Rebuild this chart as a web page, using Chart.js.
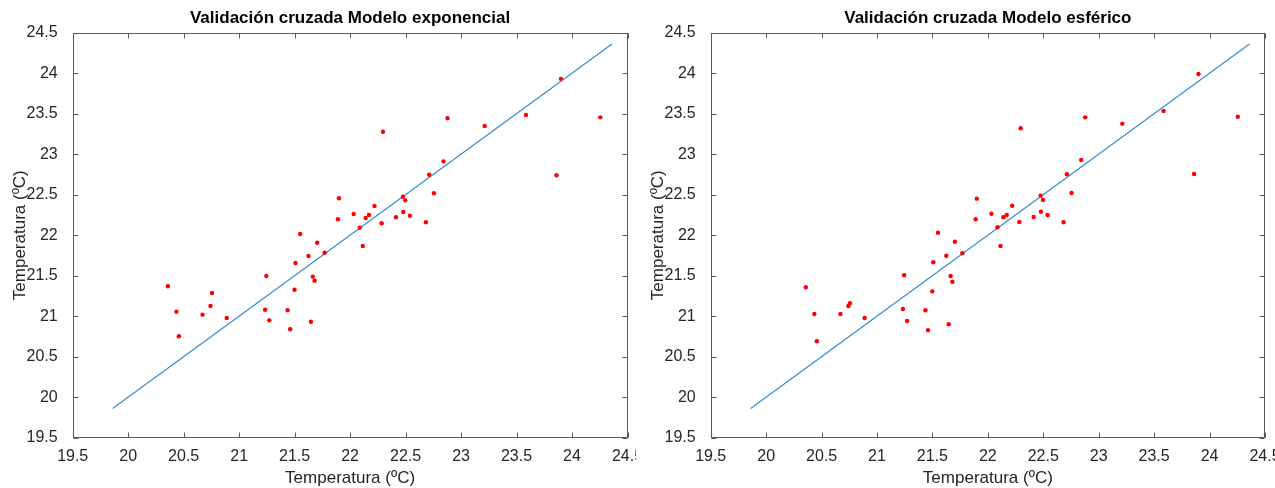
<!DOCTYPE html>
<html lang="es">
<head>
<meta charset="utf-8">
<title>Validación cruzada</title>
<script src="https://cdn.jsdelivr.net/npm/chart.js@4"></script>
<style>
  html, body { margin: 0; padding: 0; background: #fff; }
  body { width: 1275px; height: 488px; position: relative; overflow: hidden; }
  canvas { position: absolute; top: 0; }
  #chartExp { left: 0; }
  #chartEsf { left: 636px; }
</style>
</head>
<body>
<canvas id="chartExp" width="636" height="488"></canvas>
<canvas id="chartEsf" width="639" height="488"></canvas>
<script>
// --- DATOS ---
const temperaturaObservada = [
  21.90, 21.89, 21.55, 23.90, 23.585, 24.255, 23.213, 22.878, 22.296, 22.842,
  22.713, 23.86, 22.755, 22.476, 22.497, 22.22, 22.032, 22.17, 22.14, 22.479,
  22.539, 22.413, 22.284, 22.683, 22.087, 22.114, 21.703, 21.625, 21.77, 21.508,
  21.245, 21.664, 21.68, 21.499, 20.358, 20.756, 20.742, 20.67, 20.435, 20.457,
  20.888, 21.234, 21.272, 21.437, 21.46, 21.647
];

const predExponencial = [
  22.456, 22.196, 22.015, 23.93, 23.484, 23.455, 23.348, 23.443, 23.278, 22.912,
  22.747, 22.74, 22.517, 22.475, 22.43, 22.36, 22.262, 22.249, 22.212, 22.286,
  22.241, 22.221, 22.147, 22.159, 22.093, 21.867, 21.907, 21.743, 21.784, 21.657,
  21.496, 21.488, 21.439, 21.327, 21.369, 21.286, 21.126, 21.019, 21.056, 20.752,
  20.978, 21.08, 20.949, 21.073, 20.838, 20.932
];

const predEsferico = [
  22.451, 22.196, 22.031, 23.99, 23.533, 23.463, 23.377, 23.455, 23.32, 22.928,
  22.752, 22.756, 22.521, 22.488, 22.435, 22.364, 22.265, 22.249, 22.221, 22.29,
  22.249, 22.225, 22.163, 22.159, 22.098, 21.867, 21.92, 21.747, 21.777, 21.666,
  21.505, 21.496, 21.426, 21.307, 21.357, 21.159, 21.126, 21.027, 21.027, 20.69,
  20.978, 21.089, 20.94, 21.073, 20.826, 20.9
];

// recta 1:1
const lineaX = [19.86, 24.36];
const lineaY = [19.86, 24.36];

const marcasEje = [19.5, 20, 20.5, 21, 21.5, 22, 22.5, 23, 23.5, 24, 24.5];

const FONT = "'Liberation Sans', Arial, sans-serif";
const TEXTO_COLOR = '#262626';
const EJE_COLOR = '#595959';

// Caja estilo MATLAB con marcas hacia dentro + título
const cajaPlugin = {
  id: 'caja',
  afterDraw(chart, args, opts) {
    const { ctx, chartArea: a, scales } = chart;
    const L = Math.round(a.left) + 0.5, R = Math.round(a.right) - 0.5;
    const T = Math.round(a.top) + 0.5, B = Math.round(a.bottom) - 0.5;
    ctx.save();
    ctx.strokeStyle = EJE_COLOR;
    ctx.lineWidth = 1;
    ctx.strokeRect(L, T, R - L, B - T);
    ctx.beginPath();
    const len = 5;
    marcasEje.forEach(v => {
      const px = Math.round(scales.x.getPixelForValue(v)) + 0.5;
      ctx.moveTo(px, B); ctx.lineTo(px, B - len);
      ctx.moveTo(px, T); ctx.lineTo(px, T + len);
      const py = Math.round(scales.y.getPixelForValue(v)) + 0.5;
      ctx.moveTo(L, py); ctx.lineTo(L + len, py);
      ctx.moveTo(R, py); ctx.lineTo(R - len, py);
    });
    ctx.stroke();
    ctx.fillStyle = '#000';
    ctx.font = `bold 17px ${FONT}`;
    ctx.textAlign = 'center';
    ctx.textBaseline = 'middle';
    ctx.fillText(opts.text, (a.left + a.right) / 2, 18);
    ctx.restore();
  }
};

function buildChart(id, titulo, pred, caja) {
  const fijarEje = (w, h) => scale => {
    if (w != null) scale.width = w;
    if (h != null) scale.height = h;
    scale.paddingLeft = 0; scale.paddingRight = 0;
    scale.paddingTop = 0; scale.paddingBottom = 0;
  };
  const ticks = {
    color: TEXTO_COLOR,
    font: { family: FONT, size: 16 },
    maxRotation: 0,
    autoSkip: false,
    callback: v => String(+(+v).toFixed(1)),
  };
  const tituloEje = pad => ({
    display: true,
    text: 'Temperatura (ºC)',
    color: TEXTO_COLOR,
    font: { family: FONT, size: 17 },
    padding: pad,
  });

  return new Chart(document.getElementById(id), {
    type: 'scatter',
    plugins: [cajaPlugin],
    data: {
      datasets: [
        {
          data: temperaturaObservada.map((x, i) => ({ x, y: pred[i] })),
          backgroundColor: '#ff0000',
          borderWidth: 0,
          pointRadius: 2.2,
          pointHoverRadius: 2.2,
        },
        {
          data: lineaX.map((x, i) => ({ x, y: lineaY[i] })),
          showLine: true,
          borderColor: '#2f8ad0',
          borderWidth: 1.1,
          pointRadius: 0,
          fill: false,
        }
      ]
    },
    options: {
      responsive: false,
      animation: false,
      events: [],
      layout: { padding: { left: 0, top: caja.top, right: caja.right, bottom: 0 } },
      scales: {
        x: {
          min: 19.5, max: 24.5,
          grid: { display: false },
          border: { display: false },
          ticks: { ...ticks, padding: 1 },
          afterBuildTicks: s => { s.ticks = marcasEje.map(value => ({ value })); },
          afterFit: fijarEje(null, caja.bottomH),
          title: tituloEje({ top: 0, bottom: -1 }),
        },
        y: {
          min: 19.5, max: 24.5,
          grid: { display: false },
          border: { display: false },
          ticks: { ...ticks, padding: 7 },
          afterBuildTicks: s => { s.ticks = marcasEje.map(value => ({ value })); },
          afterFit: fijarEje(caja.leftW, null),
          title: tituloEje({ top: caja.ytPad, bottom: 0 }),
        }
      },
      plugins: {
        legend: { display: false },
        tooltip: { enabled: false },
        caja: { text: titulo },
      }
    }
  });
}

buildChart('chartExp', 'Validación cruzada Modelo exponencial', predExponencial,
  { top: 32.7, right: 8.5, bottomH: 50.3, leftW: 72.7, ytPad: 10 });
buildChart('chartEsf', 'Validación cruzada Modelo esférico', predEsferico,
  { top: 32.7, right: 10, bottomH: 50.3, leftW: 74.7, ytPad: 12 });
</script>
</body>
</html>
